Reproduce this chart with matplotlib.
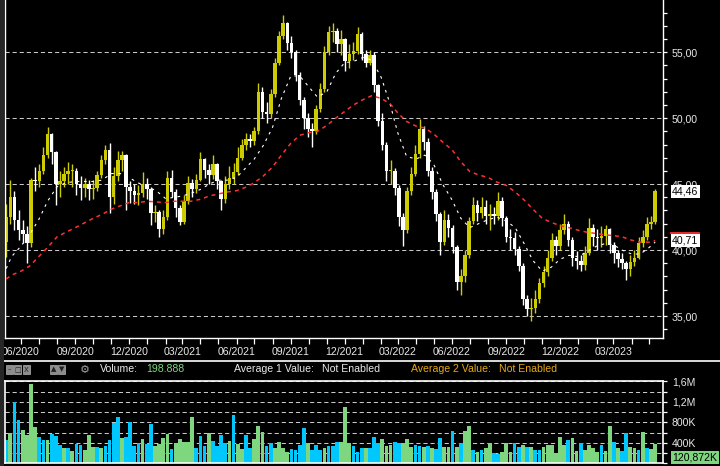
import matplotlib
matplotlib.use("Agg")
import matplotlib.pyplot as plt
import matplotlib.dates as mdates
import matplotlib.transforms as mtransforms
from matplotlib.ticker import MultipleLocator, FixedLocator, FuncFormatter
from matplotlib.patches import Rectangle
from matplotlib.lines import Line2D
import numpy as np
import pandas as pd

plt.rcParams['font.family'] = ['Liberation Sans', 'DejaVu Sans']

# weekly candles
first_open = 40.6
closes = [42.5, 44.0, 42.3, 41.5, 41.2, 40.5, 45.3, 45.2, 46.0, 47.2,
          48.8, 47.4, 45.0, 45.2, 45.8, 46.0, 46.0, 45.0, 44.7, 45.0,
          44.6, 44.7, 45.7, 46.8, 47.6, 44.0, 45.6, 46.8, 47.2, 44.8,
          44.5, 44.2, 44.3, 45.0, 44.6, 42.8, 42.9, 41.6, 42.5, 45.5,
          44.4, 43.2, 42.1, 43.7, 45.1, 44.6, 45.3, 46.9, 46.1, 45.7,
          46.5, 45.2, 43.9, 45.0, 45.5, 45.9, 47.0, 48.0, 48.4, 48.3,
          49.0, 52.0, 50.5, 50.3, 51.8, 54.2, 56.2, 57.2, 55.7, 55.0,
          53.3, 51.4, 50.0, 49.2, 49.0, 50.7, 52.2, 55.0, 56.5, 56.6,
          55.6, 56.0, 54.3, 54.9, 55.1, 56.4, 54.9, 54.2, 54.8, 52.5,
          49.8, 48.0, 46.0, 46.0, 44.7, 42.5, 41.5, 44.5, 45.8, 47.3,
          49.2, 48.2, 46.0, 44.4, 42.7, 40.6, 42.3, 41.7, 40.2, 37.6,
          38.0, 39.6, 42.2, 43.4, 42.8, 43.3, 42.6, 42.7, 42.6, 43.7,
          42.4, 41.0, 40.9, 40.1, 38.8, 36.3, 35.5, 35.6, 36.3, 37.5,
          38.3, 39.4, 40.8, 40.3, 41.5, 42.0, 40.8, 39.4, 39.2, 38.9,
          39.8, 41.7, 41.0, 40.9, 41.1, 41.6, 40.4, 39.8, 39.3, 39.0,
          38.6, 39.1, 39.4, 40.5, 41.0, 42.0, 42.1, 44.46]
highs = [43.5, 45.3, 44.5, 43.0, 42.3, 41.8, 45.5, 46.3, 46.5, 47.8,
         49.3, 48.9, 47.5, 46.0, 46.3, 46.7, 46.5, 46.2, 45.6, 45.5,
         45.3, 45.3, 46.0, 47.2, 48.0, 48.1, 46.3, 47.5, 47.5, 47.3,
         45.2, 45.0, 44.9, 45.9, 45.5, 44.8, 43.4, 43.0, 43.0, 46.0,
         46.1, 44.6, 43.4, 44.2, 45.6, 45.4, 45.8, 47.4, 47.0, 46.5,
         47.2, 46.6, 45.3, 45.6, 46.4, 46.6, 47.8, 48.4, 48.9, 48.8,
         49.3, 52.7, 52.4, 51.2, 52.2, 54.6, 56.6, 57.8, 57.3, 56.2,
         55.2, 53.5, 51.6, 50.4, 49.6, 51.0, 52.7, 55.5, 57.0, 57.2,
         56.8, 56.7, 56.1, 55.6, 55.8, 56.9, 56.5, 55.2, 55.2, 55.0,
         52.6, 50.4, 48.2, 46.8, 46.2, 44.9, 42.8, 44.8, 46.3, 48.0,
         49.9, 49.4, 48.5, 46.3, 44.6, 42.9, 43.0, 42.7, 41.9, 40.4,
         38.6, 40.0, 42.5, 44.0, 43.8, 44.0, 43.8, 43.5, 43.3, 44.4,
         44.0, 42.6, 41.6, 41.4, 40.3, 39.0, 36.6, 36.4, 37.0, 37.9,
         38.8, 40.0, 41.3, 41.1, 42.0, 42.7, 42.2, 41.0, 39.9, 39.6,
         40.3, 42.4, 42.0, 41.6, 41.8, 41.9, 41.7, 40.6, 40.0, 39.8,
         39.2, 39.6, 40.0, 41.0, 41.5, 42.5, 42.6, 44.6]
lows = [39.5, 42.0, 41.5, 40.8, 40.5, 39.0, 40.2, 44.5, 44.8, 45.8,
        47.0, 46.5, 43.4, 44.0, 44.8, 45.0, 44.8, 44.2, 43.8, 44.0,
        43.8, 43.9, 44.5, 45.5, 46.5, 42.8, 43.5, 45.2, 46.0, 43.0,
        43.6, 43.5, 43.4, 44.0, 43.9, 41.9, 42.1, 41.0, 41.2, 42.3,
        44.0, 42.5, 41.9, 42.0, 43.5, 44.0, 44.3, 45.2, 45.5, 45.0,
        45.4, 44.6, 43.0, 43.6, 44.6, 45.0, 45.7, 46.8, 47.6, 47.8,
        48.0, 48.8, 50.0, 49.6, 50.0, 51.6, 54.0, 56.0, 55.2, 54.6,
        52.8, 51.0, 49.2, 48.6, 47.8, 48.8, 50.5, 52.0, 54.8, 55.8,
        55.0, 54.8, 53.6, 53.8, 54.4, 54.9, 54.4, 53.9, 54.0, 52.0,
        49.4, 47.6, 45.2, 45.0, 44.2, 41.8, 40.3, 41.3, 44.2, 45.6,
        47.0, 47.6, 45.6, 43.9, 42.2, 39.6, 40.4, 41.0, 39.8, 37.0,
        36.6, 37.6, 39.4, 42.0, 42.2, 42.4, 42.0, 41.5, 42.0, 42.3,
        41.8, 40.6, 40.0, 39.6, 38.4, 35.8, 35.0, 34.6, 35.2, 36.0,
        37.2, 38.0, 39.2, 39.6, 40.0, 41.2, 40.3, 38.8, 38.6, 38.4,
        38.5, 39.6, 40.3, 40.0, 40.2, 40.4, 39.8, 39.0, 38.7, 38.6,
        37.7, 38.0, 38.8, 39.3, 40.2, 40.8, 41.6, 42.0]

# volume in thousands, c = cyan bar, g = green bar
volumes_k = [450, 600, 1200, 850, 650, 550, 1550, 700, 520, 460,
             460, 580, 530, 350, 300, 300, 240, 380, 350, 260,
             550, 320, 320, 300, 340, 450, 780, 900, 500, 520,
             800, 330, 400, 480, 380, 760, 340, 380, 500, 580,
             280, 400, 480, 420, 420, 900, 300, 540, 330, 600,
             440, 330, 560, 400, 440, 950, 370, 280, 560, 300,
             480, 720, 620, 340, 390, 300, 420, 300, 230, 280,
             250, 360, 680, 400, 260, 360, 250, 290, 340, 330,
             420, 420, 1100, 400, 340, 230, 290, 300, 300, 520,
             400, 470, 330, 360, 420, 400, 390, 470, 320, 360,
             330, 320, 340, 300, 280, 500, 310, 320, 640, 320,
             400, 640, 720, 260, 220, 250, 300, 400, 200, 190,
             230, 400, 230, 390, 310, 360, 310, 320, 260, 250,
             320, 360, 360, 200, 520, 360, 460, 500, 240, 390,
             250, 360, 300, 220, 360, 240, 720, 420, 300, 240,
             600, 320, 300, 250, 620, 300, 280, 380]
vol_colours = ("cgccggggcc" "gcccgcgccg" "ggcgccccgc" "cccgccgggg"
               "cgggggcccg" "ccccgcggcc" "gggccggggc" "cccgcccgcc"
               "cgggcccgcc" "cgggccgggc" "cgcgccggcg" "cggcgcggcc"
               "gggccgcgcc" "ggggggcggc" "ggggcggcgc" "cggcgcgg")

# moving averages, sampled twice a month
ma_fast = [38.6, 39.5, 40.3, 41.2, 42.3, 43.7, 44.8, 45.1, 45.2, 45.2,
           45.2, 45.3, 45.8, 45.8, 45.5, 45.1, 44.8, 44.5, 43.9, 44.0,
           44.1, 44.3, 44.6, 45.0, 45.3, 45.3, 45.5, 46.2, 46.9, 47.9,
           49.3, 51.5, 53.2, 53.2, 52.4, 51.6, 52.0, 53.4, 54.2, 54.3,
           54.6, 54.4, 53.1, 51.1, 48.9, 47.1, 46.9, 47.2, 46.5, 45.0,
           43.8, 42.4, 41.7, 42.0, 42.3, 42.5, 42.2, 41.7, 40.5, 39.2,
           38.4, 38.7, 39.3, 39.6, 39.5, 39.9, 40.3, 40.5, 40.4, 40.0,
           39.7, 39.7, 40.2, 40.6]
ma_slow = [37.8, 38.1, 38.4, 38.8, 39.5, 40.2, 41.0, 41.35, 41.7, 42.05,
           42.4, 42.7, 43.1, 43.35, 43.6, 43.6, 43.7, 43.65, 43.6, 43.7,
           43.7, 43.7, 43.85, 44.1, 44.25, 44.4, 44.5, 44.75, 45.1, 45.6,
           46.3, 47.2, 48.1, 48.7, 48.9, 49.0, 49.45, 50.0, 50.5, 51.0,
           51.4, 51.7, 51.5, 51.1, 50.4, 49.75, 49.4, 49.25, 48.8, 48.2,
           47.6, 46.7, 45.95, 45.7, 45.5, 45.15, 44.9, 44.4, 43.8, 43.1,
           42.4, 42.1, 41.85, 41.7, 41.5, 41.35, 41.25, 41.15, 41.1, 41.0,
           40.75, 40.6, 40.6, 40.71]

last_volume_k = 120.872
header_volume = "198.888"

weeks = pd.date_range("2020-05-07", periods=len(closes), freq="7D")
ma_dates = ([pd.Timestamp("2020-05-07")]
            + list(pd.date_range("2020-05-16", "2023-05-01", freq="SMS-16"))
            + [pd.Timestamp("2023-05-11")])

YELLOW = "#CCCC00"
WHITE = "#FFFFFF"
CYAN = "#00C8FF"
GREEN = "#7ED67E"
RED = "#FF3030"
GRID = "#C8C8C8"
TXT = "#E8E8E8"
FS = 7.6

W, H = 720, 466
def fx(px):
    return px / W
def fy(py):
    return 1 - py / H

fig = plt.figure(figsize=(7.2, 4.66), dpi=100, facecolor="black")
ax = fig.add_axes([fx(4.7), fy(337.5), fx(663.3) - fx(4.7), fy(0) - fy(337.5)])
axv = fig.add_axes([fx(4.7), fy(463.3), fx(663.3) - fx(4.7), fy(381.3) - fy(463.3)], sharex=ax)
for a in (ax, axv):
    a.set_facecolor("black")

# candles
o = np.array([first_open] + closes[:-1])
c = np.array(closes)
cols = np.where(c >= o, YELLOW, WHITE)
ax.vlines(weeks, lows, highs, colors=cols, lw=1.0, zorder=2)
ax.bar(weeks, np.maximum(np.abs(c - o), 0.08), bottom=np.minimum(o, c), width=6,
       color=cols, linewidth=0, zorder=2)

# moving averages
ax.plot(ma_dates, ma_fast, color=WHITE, lw=0.8, dashes=(2.4, 4.2), zorder=4)
ax.plot(ma_dates, ma_slow, color=RED, lw=1.1, dashes=(2.6, 2.6), zorder=4)

ax.set_xlim(pd.Timestamp("2020-05-04 10:00"), pd.Timestamp("2023-05-24 19:00"))
ax.set_ylim(33.37, 58.96)

ax.yaxis.tick_right()
ax.yaxis.set_major_locator(MultipleLocator(5))
ax.yaxis.set_minor_locator(MultipleLocator(1))
ax.yaxis.set_major_formatter(FuncFormatter(lambda v, p: f"{v:.2f}".replace(".", ",")))
ax.yaxis.grid(True, which="major", color=GRID, lw=0.75, linestyle=(0, (4, 2.8)))
ax.tick_params(axis="y", which="both", colors="white", labelcolor=TXT, length=3.2,
               width=0.9, labelsize=FS, pad=3)

ax.xaxis.set_major_locator(mdates.MonthLocator(bymonth=(3, 6, 9, 12)))
ax.xaxis.set_minor_locator(mdates.MonthLocator())
ax.xaxis.set_major_formatter(mdates.DateFormatter("%m/%Y"))
ax.tick_params(axis="x", which="both", colors="white", labelcolor=TXT, length=4.6,
               width=0.9, labelsize=FS, pad=2.2)
plt.setp(axv.get_xticklabels(), visible=False)

for side in ("left", "bottom", "right"):
    ax.spines[side].set_color("white")
    ax.spines[side].set_linewidth(1.0)
ax.spines["top"].set_visible(False)

# value boxes on the price scale
blend = mtransforms.blended_transform_factory(ax.transAxes, ax.transData)
ax.text(1.0135, closes[-1], f"{closes[-1]:.2f}".replace(".", ","), transform=blend,
        ha="left", va="center", fontsize=FS, color="black", clip_on=False, zorder=6,
        bbox=dict(boxstyle="square,pad=0.12", fc="white", ec="none"))
ax.text(1.0135, ma_slow[-1], f"{ma_slow[-1]:.2f}".replace(".", ","), transform=blend,
        ha="left", va="center", fontsize=FS, color="black", clip_on=False, zorder=6,
        bbox=dict(boxstyle="square,pad=0.12", fc="white", ec="none"))
ax.plot([1.0118, 1.0545], [ma_slow[-1] + 0.55] * 2, transform=blend, color=RED,
        lw=1.3, clip_on=False, zorder=7)

# volume
vcols = [CYAN if ch == "c" else GREEN for ch in vol_colours]
axv.bar(weeks, volumes_k, width=6.3, color=vcols, linewidth=0, zorder=2)
axv.set_ylim(0, 1600)
axv.yaxis.tick_right()
axv.yaxis.set_major_locator(FixedLocator([400, 800, 1200, 1600]))
axv.yaxis.set_minor_locator(MultipleLocator(200))
axv.yaxis.set_major_formatter(FuncFormatter(
    lambda v, p: f"{v / 1000:.1f}M".replace(".", ",") if v >= 1000 else f"{v:.0f}K"))
axv.yaxis.grid(True, which="both", color=GRID, lw=0.75, linestyle=(0, (4, 2.8)))
axv.tick_params(axis="y", which="both", colors="white", labelcolor=TXT, length=3.2,
                width=0.9, labelsize=FS, pad=3)
axv.tick_params(axis="x", which="both", bottom=False, labelbottom=False)
for side in axv.spines:
    axv.spines[side].set_color("white")
    axv.spines[side].set_linewidth(1.2)

blendv = mtransforms.blended_transform_factory(axv.transAxes, axv.transData)
axv.text(1.0135, last_volume_k, f"{last_volume_k:.3f}K".replace(".", ","), transform=blendv,
         ha="left", va="center", fontsize=FS, color="black", clip_on=False, zorder=6,
         bbox=dict(boxstyle="square,pad=0.14", fc=GREEN, ec="none"))

# separator line and header of the volume pane
fig.add_artist(Line2D([0, 1], [fy(361.3)] * 2, color="white", lw=1.2))
for x0, sym in [(6, "–"), (14, "□"), (22.5, "X"), (50, "▲"), (58, "▼")]:
    fig.add_artist(Rectangle((fx(x0), fy(374)), 7 / W, 8.7 / H, transform=fig.transFigure,
                             fc="#8C8C8C", ec="#B0B0B0", lw=0.5))
    fig.text(fx(x0 + 3.5), fy(369.6), sym, ha="center", va="center", fontsize=5,
             color="#202020", family=["DejaVu Sans"])
fig.text(fx(84.5), fy(369.6), "⚙", ha="center", va="center", fontsize=8,
         color="#A0A0A0", family=["DejaVu Sans"])

hy = fy(369.5)
fig.text(fx(100), hy, "Volume:", color=TXT, fontsize=FS, va="center")
fig.text(fx(146), hy, header_volume, color=GREEN, fontsize=FS, va="center")
fig.text(fx(234), hy, "Average 1 Value:", color=TXT, fontsize=FS, va="center")
fig.text(fx(322), hy, "Not Enabled", color=TXT, fontsize=FS, va="center")
fig.text(fx(411), hy, "Average 2 Value:", color="#E6A817", fontsize=FS, va="center")
fig.text(fx(499), hy, "Not Enabled", color="#E6A817", fontsize=FS, va="center")

# dark strip on the left edge
fig.add_artist(Rectangle((0, 0), 3.5 / W, 1, transform=fig.transFigure,
                         fc="#262626", ec="none", zorder=20))

fig.savefig("out.png", dpi=100, facecolor="black")
